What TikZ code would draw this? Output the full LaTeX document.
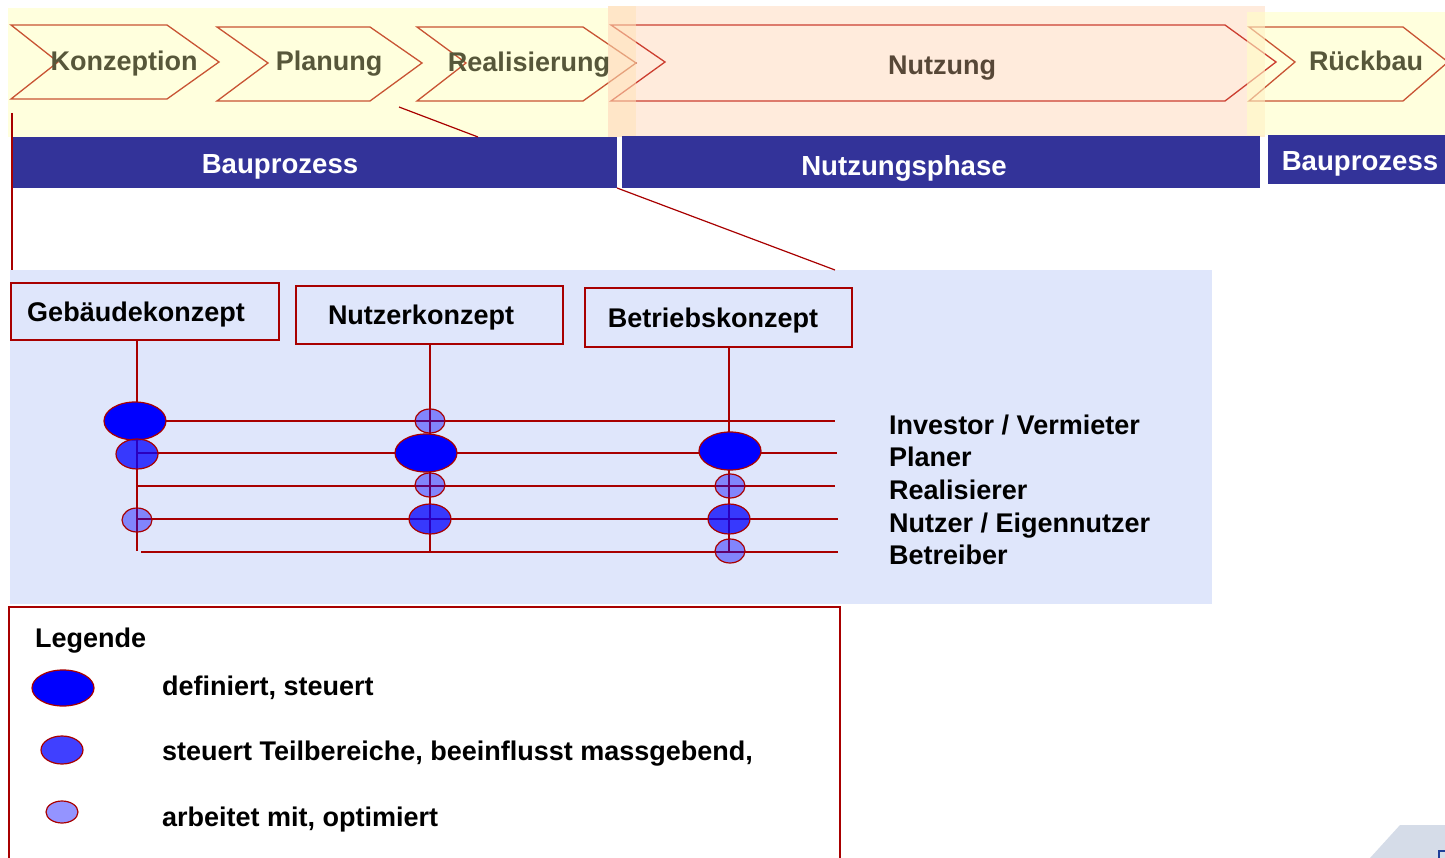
\documentclass[tikz,border=0pt]{standalone}
\usepackage{fontspec}
\setmainfont{Liberation Sans}
\usetikzlibrary{shapes.geometric}
\definecolor{yellowbg}{HTML}{FFFFDD}
\definecolor{orangebg}{HTML}{FFEBDC}
\definecolor{overlapL}{HTML}{FFE2B8}
\definecolor{overlapR}{HTML}{FFF0C4}
\definecolor{barblue}{HTML}{333399}
\definecolor{panel}{HTML}{DFE6FB}
\definecolor{darkred}{HTML}{A80000}
\definecolor{chevred}{HTML}{C85434}
\definecolor{chevred2}{HTML}{CC3E30}
\definecolor{olive}{HTML}{57573A}
\definecolor{brownish}{HTML}{574737}
\definecolor{cornergray}{HTML}{D5DCE8}
\definecolor{cornerblue}{HTML}{1E3F99}
\tikzset{
  chev/.style={draw=chevred, line width=1.3pt, line join=miter},
  phase/.style={font=\fontsize{27}{32}\selectfont\bfseries, text=olive, anchor=base, inner sep=0pt},
  barlabel/.style={font=\fontsize{27.6}{32}\selectfont\bfseries, text=white, anchor=base, inner sep=0pt},
  blabel/.style={font=\fontsize{27}{32}\selectfont\bfseries, text=black, anchor=base, inner sep=0pt},
  konzbox/.style={draw=darkred, line width=1.3pt, rectangle, inner sep=0pt},
  rline/.style={draw=darkred, line width=1.3pt},
  bigdot/.style={ellipse, draw=darkred, line width=1.2pt, fill={rgb,255:red,0;green,0;blue,255}, inner sep=0pt, minimum width=62pt, minimum height=38pt},
  meddot/.style={ellipse, draw=darkred, line width=1.2pt, fill=blue, fill opacity=0.75, draw opacity=1, inner sep=0pt, minimum width=42pt, minimum height=30pt},
  smalldot/.style={ellipse, draw=darkred, line width=1.2pt, fill=blue, fill opacity=0.42, draw opacity=1, inner sep=0pt, minimum width=30pt, minimum height=24pt},
}
\begin{document}
\begin{tikzpicture}[x=1pt,y=-1pt]
\useasboundingbox (0,0) rectangle (1445,858);
% backgrounds
\fill[yellowbg] (8,8) rectangle (608,137);
\fill[orangebg] (608,6) rectangle (1265,137);
\fill[yellowbg] (1247,12) rectangle (1445,135);
% chevrons
\draw[chev] (11,25) -- (167,25) -- (219,62) -- (167,99) -- (11,99) -- (58,62) -- cycle;
\draw[chev] (217,27) -- (370,27) -- (422,63) -- (370,101) -- (217,101) -- (268,63) -- cycle;
\draw[chev] (417,27) -- (583,27) -- (636,63) -- (583,101) -- (417,101) -- (466,63) -- cycle;
\draw[chev, draw=chevred2] (611,25) -- (1225,25) -- (1276,62) -- (1225,101) -- (611,101) -- (665,62) -- cycle;
\draw[chev] (1249,27) -- (1403,27) -- (1448,62) -- (1403,101) -- (1249,101) -- (1295,62) -- cycle;
% overlap strips
\fill[overlapL, opacity=0.55] (608,6) rectangle (636,137);
\fill[overlapR, opacity=0.6] (1247,12) rectangle (1265,137);
% phase labels
\node[phase] (konz) at (124,71) {Konzeption};
\node[phase] (plan) at (329,71) {Planung};
\node[phase] (real) at (529,72) {Realisierung};
\node[phase, text=brownish] (nutz) at (942,75) {Nutzung};
\node[phase] (rueck) at (1366,71) {Rückbau};
% bars
\node[fill=barblue, minimum width=604pt, minimum height=51pt, inner sep=0pt] (bar1) at (315,162.5) {};
\node[fill=barblue, minimum width=638pt, minimum height=52pt, inner sep=0pt] (bar2) at (941,162) {};
\node[fill=barblue, minimum width=177pt, minimum height=49pt, inner sep=0pt] (bar3) at (1356.5,159.5) {};
\node[barlabel] (bar1t) at (280,174) {Bauprozess};
\node[barlabel] (bar2t) at (904,176) {Nutzungsphase};
\node[barlabel] (bar3t) at (1360,171) {Bauprozess};
% zoom lines
\coordinate (zA1) at (12,113);
\coordinate (zA2) at (12,270);
\coordinate (zB1) at (399,107);
\coordinate (zB2) at (478,137);
\coordinate (zC1) at (617,188);
\coordinate (zC2) at (835,270);
% panel
\fill[panel] (10,270) rectangle (1212,604);
\draw[darkred, line width=1.2pt] (zA1) -- (zA2);
\draw[darkred, line width=1.2pt] (zB1) -- (zB2);
\draw[darkred, line width=1.2pt] (zC1) -- (zC2);
% concept boxes
\node[konzbox, minimum width=268pt, minimum height=57pt] (geb) at (145,311.5) {};
\node[konzbox, minimum width=267pt, minimum height=58pt] (nutzk) at (429.5,315) {};
\node[konzbox, minimum width=267pt, minimum height=59pt] (betr) at (718.5,317.5) {};
\node[blabel] (gebt) at (136,321.5) {Gebäudekonzept};
\node[blabel] (nutzkt) at (421,324.5) {Nutzerkonzept};
\node[blabel] (betrt) at (713,327.5) {Betriebskonzept};
% column bottoms
\coordinate (c1) at (137,551);
\coordinate (c2) at (430,553);
\coordinate (c3) at (729,551);
\draw[rline] (geb.south -| c1) -- (c1);
\draw[rline] (nutzk.south -| c2) -- (c2);
\draw[rline] (betr.south -| c3) -- (c3);
% row lines
\coordinate (r1a) at (137,421); \coordinate (r1b) at (835,421);
\coordinate (r2a) at (137,453); \coordinate (r2b) at (837,453);
\coordinate (r3a) at (137,486); \coordinate (r3b) at (835,486);
\coordinate (r4a) at (137,519); \coordinate (r4b) at (838,519);
\coordinate (r5a) at (141,552); \coordinate (r5b) at (838,552);
\draw[rline] (r1a) -- (r1b);
\draw[rline] (r2a) -- (r2b);
\draw[rline] (r3a) -- (r3b);
\draw[rline] (r4a) -- (r4b);
\draw[rline] (r5a) -- (r5b);
% ellipses
\node[bigdot] (e11) at (135,421) {};
\node[meddot] (e12) at (137,454) {};
\node[smalldot] (e14) at (137,520) {};
\node[smalldot] (e21) at (430,421) {};
\node[bigdot] (e22) at (426,453) {};
\node[smalldot] (e23) at (430,485) {};
\node[meddot] (e24) at (430,519) {};
\node[bigdot] (e32) at (730,451) {};
\node[smalldot] (e33) at (730,486) {};
\node[meddot] (e34) at (729,519) {};
\node[smalldot] (e35) at (730,551) {};
% row labels
\node[blabel, anchor=base west] (l1) at (889,434.5) {Investor / Vermieter};
\node[blabel, anchor=base west] (l2) at (889,466.5) {Planer};
\node[blabel, anchor=base west] (l3) at (889,499.5) {Realisierer};
\node[blabel, anchor=base west] (l4) at (889,532.5) {Nutzer / Eigennutzer};
\node[blabel, anchor=base west] (l5) at (889,564.5) {Betreiber};
% legend
\draw[darkred, line width=1.2pt] (9,862) -- (9,607) -- (840,607) -- (840,862);
\node[blabel, anchor=base west] (leg) at (35,647.5) {Legende};
\node[bigdot, minimum height=36pt] (lg1) at (63,688) {};
\node[meddot, minimum height=28pt] (lg2) at (62,750) {};
\node[smalldot, minimum width=32pt, minimum height=22pt] (lg3) at (62,812) {};
\node[blabel, anchor=base west] (lt1) at (162,695.5) {definiert, steuert};
\node[blabel, anchor=base west] (lt2) at (162,760.5) {steuert Teilbereiche, beeinflusst massgebend,};
\node[blabel, anchor=base west] (lt3) at (162,826.5) {arbeitet mit, optimiert};
% corner decoration
\fill[cornergray] (1370,858) -- (1400,825) -- (1445,825) -- (1445,858) -- cycle;
\draw[cornerblue, line width=2.5pt] (1439,858) -- (1439,851) -- (1445,851);
\end{tikzpicture}
\end{document}
